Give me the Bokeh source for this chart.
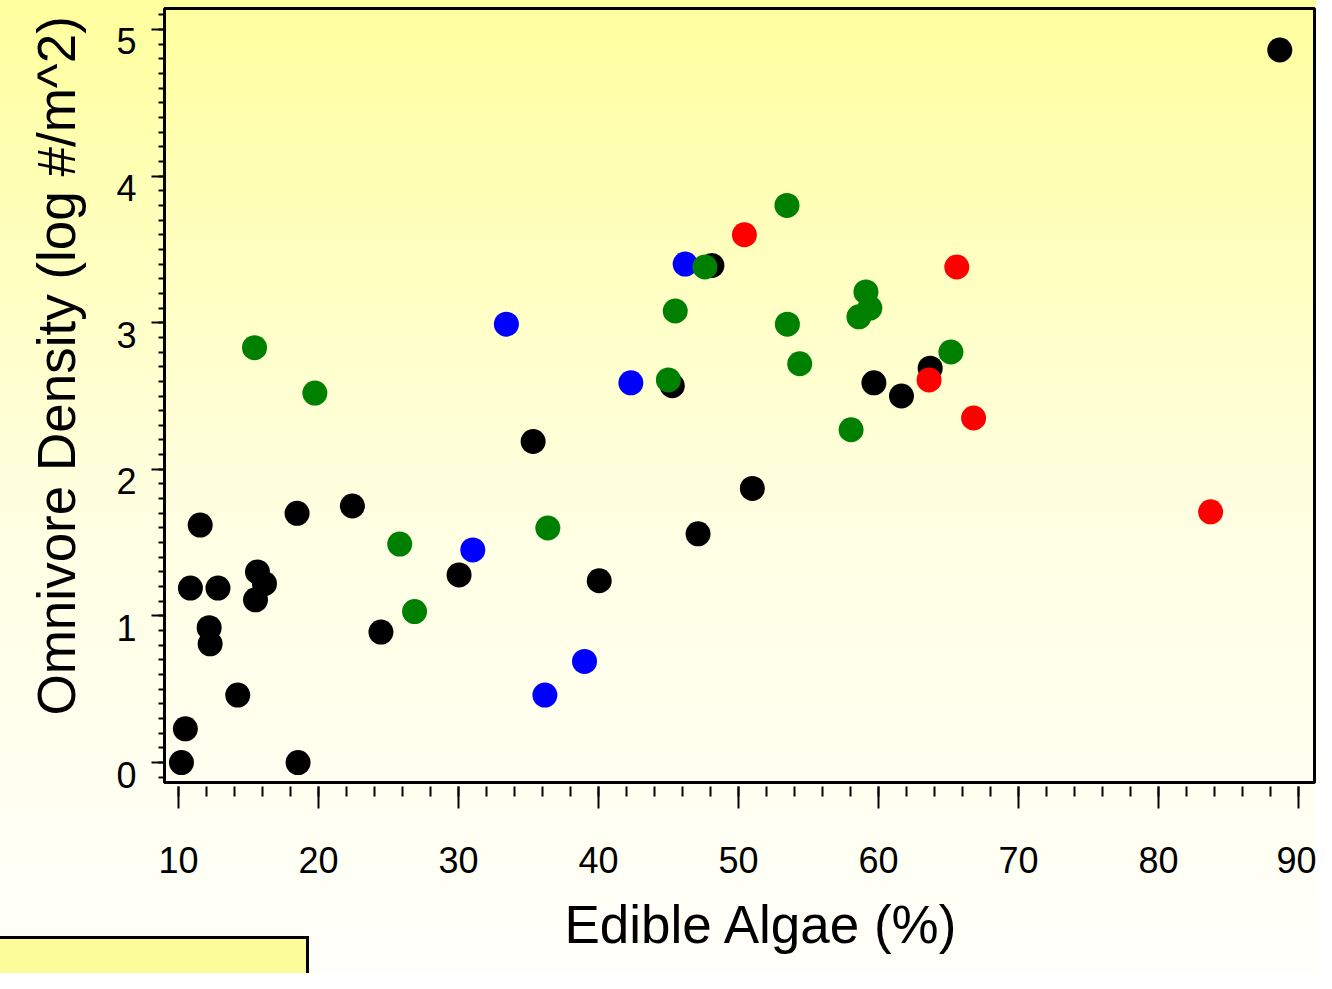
from bokeh.plotting import figure
from bokeh.models import FixedTicker, InlineStyleSheet, Range1d, LinearAxis, Title
from bokeh.embed import file_html
from bokeh.resources import INLINE

# ---- data ----
black_x = [10.21, 10.49, 11.55, 10.85, 12.82, 12.19, 12.26, 14.23, 15.64, 16.14, 15.50,
           18.47, 18.54, 22.42, 24.46, 30.04, 35.33, 40.05, 45.27, 47.11, 48.10, 50.99,
           59.67, 61.64, 63.69, 88.66]
black_y = [0.0, 0.23, 1.62, 1.19, 1.19, 0.92, 0.81, 0.46, 1.30, 1.22, 1.11,
           1.70, 0.0, 1.75, 0.89, 1.28, 2.19, 1.24, 2.57, 1.56, 3.39, 1.87,
           2.59, 2.50, 2.69, 4.86]
blue_x = [31.02, 33.42, 36.17, 39.00, 42.31, 46.19]
blue_y = [1.45, 2.99, 0.46, 0.69, 2.59, 3.40]
green_x = [15.43, 19.74, 25.80, 26.86, 36.38, 44.99, 45.48, 47.60, 53.46, 53.49, 54.37,
           58.04, 58.60, 59.10, 59.38, 65.17]
green_y = [2.83, 2.52, 1.49, 1.03, 1.60, 2.61, 3.08, 3.38, 3.80, 2.99, 2.72,
           2.27, 3.04, 3.21, 3.10, 2.80]
red_x = [50.42, 63.61, 65.59, 66.79, 83.72]
red_y = [3.60, 2.61, 3.38, 2.35, 1.71]

x_ticks = [10, 20, 30, 40, 50, 60, 70, 80, 90]
y_ticks = [0, 1, 2, 3, 4, 5]
x_title = "Edible Algae (%)"
y_title = "Omnivore Density (log #/m^2)"

FONT = "Liberation Sans"

# page background: yellow-to-white gradient plus the partly visible legend box (lower left)
css = InlineStyleSheet(css=(
    ":host { background:"
    " linear-gradient(#000,#000) 306px 936px / 3px 60px no-repeat,"
    " linear-gradient(#000,#000) 0px 936px / 309px 3px no-repeat,"
    " linear-gradient(#FCFC9A,#FCFC9A) 0px 936px / 309px 60px no-repeat,"
    " linear-gradient(to bottom, #FFFF9E, #FFFFE4 55%, #FFFFFA); }"))

Y0, Y1 = -0.136, 5.143
p = figure(width=1316, height=973, output_backend="svg", toolbar_location=None,
           x_range=Range1d(9.0, 91.14), y_range=Range1d(Y0, Y1),
           min_border_left=164, min_border_right=2, min_border_top=8, min_border_bottom=191,
           stylesheets=[css])
p.background_fill_color = None
p.border_fill_color = None
p.outline_line_color = "black"
p.outline_line_width = 3
p.xgrid.visible = False
p.ygrid.visible = False

# x axis
xa = p.xaxis[0]
xa.ticker = FixedTicker(ticks=x_ticks, minor_ticks=list(range(10, 91, 2)))
xa.axis_line_color = None
xa.major_tick_in = -4
xa.major_tick_out = 26
xa.minor_tick_in = -4
xa.minor_tick_out = 14
xa.major_tick_line_width = 2
xa.minor_tick_line_width = 2
xa.major_tick_line_color = "black"
xa.minor_tick_line_color = "black"
xa.major_label_text_font = FONT
xa.major_label_text_font_size = "36px"
xa.major_label_text_color = "black"
xa.major_label_standoff = 38

# y axis: ticks only
ya = p.yaxis[0]
ya.ticker = FixedTicker(ticks=y_ticks, minor_ticks=[round(-0.1 + 0.1 * i, 1) for i in range(53)])
ya.axis_line_color = "black"
ya.axis_line_width = 2
ya.major_tick_in = 0
ya.major_tick_out = 13
ya.minor_tick_in = 0
ya.minor_tick_out = 6
ya.major_tick_line_width = 2
ya.minor_tick_line_width = 2
ya.major_tick_line_color = "black"
ya.minor_tick_line_color = "black"
ya.major_label_overrides = {t: "" for t in y_ticks}
ya.major_label_standoff = 0

# y tick labels sit a little below their ticks in the reference
shift = 12 / 146.6
p.extra_y_ranges = {"lab": Range1d(Y0 + shift, Y1 + shift)}
ylab = LinearAxis(y_range_name="lab", ticker=FixedTicker(ticks=y_ticks, minor_ticks=[]))
ylab.axis_line_color = None
ylab.major_tick_line_color = None
ylab.minor_tick_line_color = None
ylab.major_tick_in = 0
ylab.major_tick_out = 0
ylab.minor_tick_in = 0
ylab.minor_tick_out = 0
ylab.major_label_text_font = FONT
ylab.major_label_text_font_size = "36px"
ylab.major_label_text_color = "black"
ylab.major_label_standoff = 15
p.add_layout(ylab, "left")

SZ = 25
p.scatter(black_x, black_y, marker="circle", size=SZ, fill_color="black", line_color=None)
p.scatter(blue_x, blue_y, marker="circle", size=SZ, fill_color="#0000FF", line_color=None)
p.scatter(green_x, green_y, marker="circle", size=SZ, fill_color="#008000", line_color=None)
p.scatter(red_x, red_y, marker="circle", size=SZ, fill_color="#FF0000", line_color=None)

# axis titles
p.add_layout(Title(text=x_title, text_font=FONT, text_font_size="53px", text_font_style="normal",
                   text_color="black", align="left", offset=400, standoff=36,
                   vertical_align="middle"), "below")
p.add_layout(Title(text=y_title, text_font=FONT, text_font_size="53px", text_font_style="normal",
                   text_color="black", align="left", offset=67, standoff=52,
                   vertical_align="top"), "left")

open("out.html", "w").write(file_html(p, INLINE))
